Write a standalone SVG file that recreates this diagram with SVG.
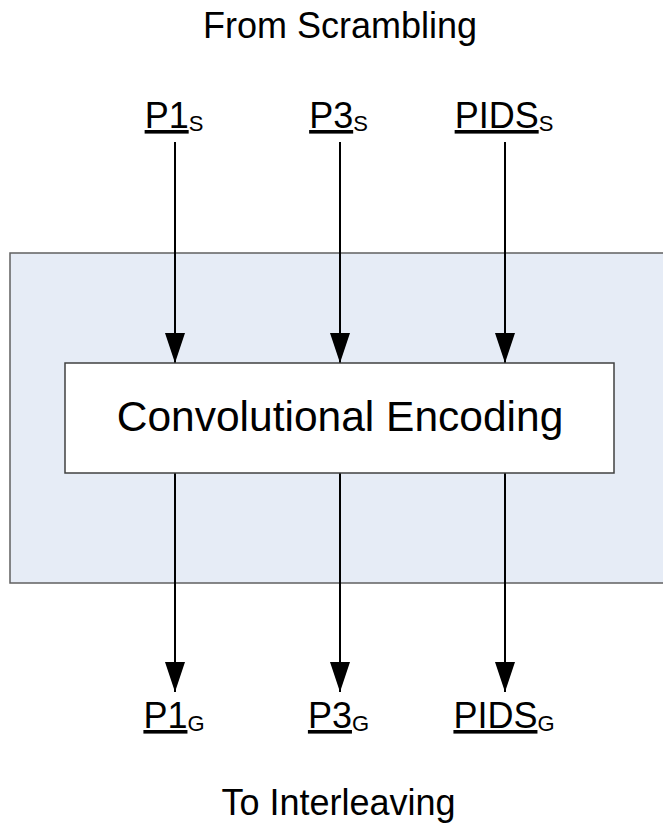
<svg xmlns="http://www.w3.org/2000/svg" width="663" height="827" viewBox="0 0 663 827">
  <style>
    text { font-family: "Liberation Sans", Arial, sans-serif; fill: #000; }
    .caption { font-size: 36px; text-anchor: middle; }
    .lbl { font-size: 36px; text-anchor: middle; }
    .ul { text-decoration: underline; }
    .sub { font-size: 22px; }
    .conn { stroke: #000; stroke-width: 2; fill: none; marker-end: url(#arrow); }
    .outer { fill: #E6ECF6; stroke: #606060; stroke-width: 1.5; }
    .box { fill: #FFFFFF; stroke: #404040; stroke-width: 1.5; }
  </style>
  <defs>
    <marker id="arrow" markerUnits="userSpaceOnUse" markerWidth="30" markerHeight="20" viewBox="0 0 30 20" refX="30" refY="10" orient="auto">
      <path d="M0,0 L30,10 L0,20 z" fill="#000"/>
    </marker>
  </defs>

  <g id="from-scrambling">
    <text class="caption" x="340" y="38">From Scrambling</text>
  </g>

  <g id="container">
    <rect class="outer" x="10" y="253" width="665" height="330"/>
  </g>

  <g id="connectors">
    <line class="conn" x1="175" y1="142" x2="175" y2="363"/>
    <line class="conn" x1="340" y1="142" x2="340" y2="363"/>
    <line class="conn" x1="505" y1="142" x2="505" y2="363"/>
    <line class="conn" x1="175" y1="473" x2="175" y2="692"/>
    <line class="conn" x1="340" y1="473" x2="340" y2="692"/>
    <line class="conn" x1="505" y1="473" x2="505" y2="692"/>
  </g>

  <g id="encoder">
    <rect class="box" x="65" y="363" width="549" height="110"/>
    <text x="340" y="431" font-size="42.5" text-anchor="middle">Convolutional Encoding</text>
  </g>

  <g id="p1s">
    <text class="lbl" x="174" y="128"><tspan class="ul">P1</tspan><tspan class="sub" dy="3">S</tspan></text>
  </g>
  <g id="p3s">
    <text class="lbl" x="338.5" y="128"><tspan class="ul">P3</tspan><tspan class="sub" dy="3">S</tspan></text>
  </g>
  <g id="pidss">
    <text class="lbl" x="504" y="128"><tspan class="ul">PIDS</tspan><tspan class="sub" dy="3">S</tspan></text>
  </g>

  <g id="p1g">
    <text class="lbl" x="174" y="728"><tspan class="ul">P1</tspan><tspan class="sub" dy="3">G</tspan></text>
  </g>
  <g id="p3g">
    <text class="lbl" x="338.5" y="728"><tspan class="ul">P3</tspan><tspan class="sub" dy="3">G</tspan></text>
  </g>
  <g id="pidsg">
    <text class="lbl" x="504" y="728"><tspan class="ul">PIDS</tspan><tspan class="sub" dy="3">G</tspan></text>
  </g>

  <g id="to-interleaving">
    <text class="caption" x="338.5" y="815">To Interleaving</text>
  </g>
</svg>
